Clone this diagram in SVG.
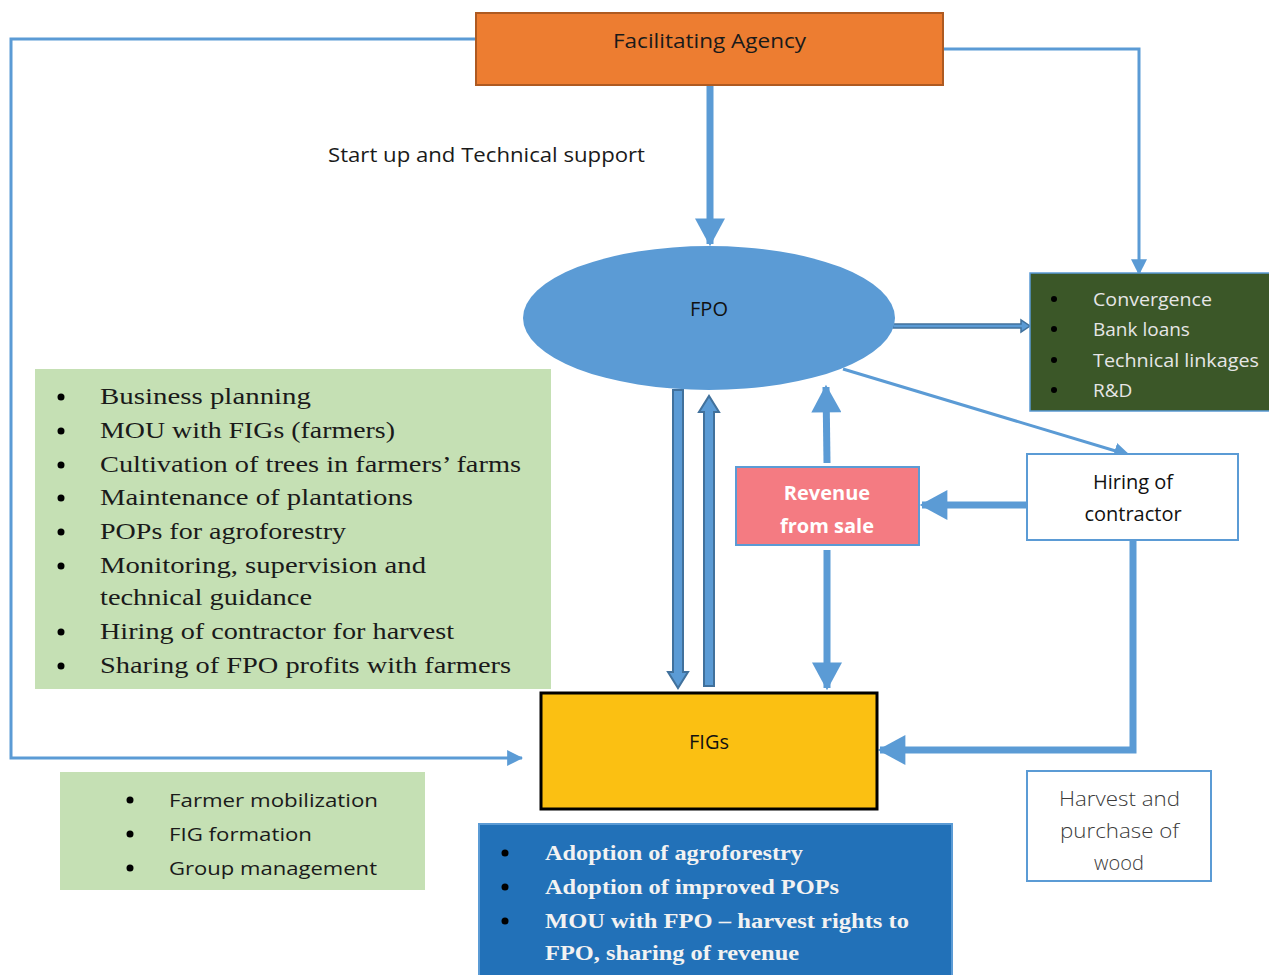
<svg xmlns="http://www.w3.org/2000/svg" width="1269" height="975" viewBox="0 0 1269 975">
<defs>
<style>
.conn{fill:none;stroke:#5B9BD5;}
.thin{stroke-width:3;}
.thick{stroke-width:7;}
.block{fill:#5B9BD5;stroke:#41719C;stroke-width:2;}
.sans{font-family:"Open Sans","Liberation Sans",sans-serif;}
.serif{font-family:"Liberation Serif","DejaVu Serif",serif;}
.bul{fill:#000;}
</style>
<marker id="headL" markerUnits="userSpaceOnUse" markerWidth="30" markerHeight="30" viewBox="0 0 24 26" refX="22" refY="13" orient="auto">
<path d="M0,0 L24,13 L0,26 Z" fill="#5B9BD5"/>
</marker>
<marker id="headS" markerUnits="userSpaceOnUse" markerWidth="16" markerHeight="16" viewBox="0 0 14 14" refX="13" refY="7" orient="auto">
<path d="M0,0 L14,7 L0,14 Z" fill="#5B9BD5"/>
</marker>
</defs>
<rect width="1269" height="975" fill="#fff"/>

<g id="connectors">
<polyline class="conn thin" points="475,39 11,39 11,758 522,758" marker-end="url(#headS)"/>
<polyline class="conn thin" points="943,49 1139,49 1139,274" marker-end="url(#headS)"/>
<line class="conn thick" x1="710" y1="85" x2="710" y2="244" marker-end="url(#headL)"/>
<line class="conn thin" x1="843" y1="369" x2="1129" y2="455" marker-end="url(#headS)"/>
<line class="conn thick" x1="1027" y1="505" x2="922" y2="505" marker-end="url(#headL)"/>
<line class="conn thick" x1="827" y1="463" x2="826" y2="387" marker-end="url(#headL)"/>
<line class="conn thick" x1="827" y1="550" x2="827" y2="688" marker-end="url(#headL)"/>
<polyline class="conn thick" points="1133,540 1133,750 880,750" marker-end="url(#headL)"/>
<path class="block" d="M673,390 L683,390 L683,672 L688,672 L678,688 L668,672 L673,672 Z"/>
<path class="block" d="M704,686 L714,686 L714,412 L719,412 L709,396 L699,412 L704,412 Z"/>
<path class="block" style="stroke-width:1.5" d="M893,324 L1021,324 L1021,320 L1030,326 L1021,332 L1021,328 L893,328 Z"/>
</g>

<g id="facilitating-agency">
<rect x="476" y="13" width="467" height="72" fill="#ED7D31" stroke="#AE5A21" stroke-width="2"/>
<text x="613" y="48" class="sans" font-size="20" font-weight="500" fill="#1a1a1a" textLength="193" lengthAdjust="spacingAndGlyphs">Facilitating Agency</text>
</g>

<g id="startup-label">
<text x="328" y="162" class="sans" font-size="20" font-weight="500" fill="#1a1a1a" textLength="317" lengthAdjust="spacingAndGlyphs">Start up and Technical support</text>
</g>

<g id="fpo">
<ellipse cx="709" cy="318" rx="186" ry="72" fill="#5B9BD5"/>
<text x="709" y="316" text-anchor="middle" class="sans" font-size="20" font-weight="500" fill="#111">FPO</text>
</g>

<g id="support-box">
<rect x="1030" y="273" width="245" height="138" fill="#3B5728" stroke="#5B9BD5" stroke-width="1.5"/>
<g class="bul"><circle cx="1054" cy="299" r="3"/><circle cx="1054" cy="329" r="3"/><circle cx="1054" cy="360" r="3"/><circle cx="1054" cy="390" r="3"/></g>
<g class="sans" font-size="19" fill="#E6E6E6">
<text x="1093" y="306" textLength="119" lengthAdjust="spacingAndGlyphs">Convergence</text>
<text x="1093" y="336">Bank loans</text>
<text x="1093" y="367" textLength="166" lengthAdjust="spacingAndGlyphs">Technical linkages</text>
<text x="1093" y="397">R&amp;D</text>
</g>
</g>

<g id="revenue">
<rect x="736" y="467" width="183" height="78" fill="#F47B82" stroke="#5B9BD5" stroke-width="2"/>
<text x="827" y="500" text-anchor="middle" class="sans" font-size="20" font-weight="bold" fill="#fff">Revenue</text>
<text x="827" y="533" text-anchor="middle" class="sans" font-size="20" font-weight="bold" fill="#fff">from sale</text>
</g>

<g id="hiring">
<rect x="1027" y="454" width="211" height="86" fill="#fff" stroke="#5B9BD5" stroke-width="2"/>
<text x="1133" y="489" text-anchor="middle" class="sans" font-size="20" fill="#111">Hiring of</text>
<text x="1133" y="521" text-anchor="middle" class="sans" font-size="20" fill="#111">contractor</text>
</g>

<g id="fpo-activities">
<rect x="35" y="369" width="516" height="320" fill="#C5E0B4"/>
<g class="bul"><circle cx="61" cy="397" r="3.5"/><circle cx="61" cy="431" r="3.5"/><circle cx="61" cy="465" r="3.5"/><circle cx="61" cy="498" r="3.5"/><circle cx="61" cy="532" r="3.5"/><circle cx="61" cy="566" r="3.5"/><circle cx="61" cy="632" r="3.5"/><circle cx="61" cy="666" r="3.5"/></g>
<g class="serif" font-size="23" fill="#1a1a1a">
<text x="100" y="404" textLength="211" lengthAdjust="spacingAndGlyphs">Business planning</text>
<text x="100" y="438" textLength="295" lengthAdjust="spacingAndGlyphs">MOU with FIGs (farmers)</text>
<text x="100" y="472" textLength="421" lengthAdjust="spacingAndGlyphs">Cultivation of trees in farmers’ farms</text>
<text x="100" y="505" textLength="313" lengthAdjust="spacingAndGlyphs">Maintenance of plantations</text>
<text x="100" y="539" textLength="246" lengthAdjust="spacingAndGlyphs">POPs for agroforestry</text>
<text x="100" y="573" textLength="326" lengthAdjust="spacingAndGlyphs">Monitoring, supervision and</text>
<text x="100" y="605" textLength="212" lengthAdjust="spacingAndGlyphs">technical guidance</text>
<text x="100" y="639" textLength="354" lengthAdjust="spacingAndGlyphs">Hiring of contractor for harvest</text>
<text x="100" y="673" textLength="411" lengthAdjust="spacingAndGlyphs">Sharing of FPO profits with farmers</text>
</g>
</g>

<g id="figs">
<rect x="541" y="693" width="336" height="116" fill="#FBC012" stroke="#000" stroke-width="3"/>
<text x="709" y="749" text-anchor="middle" class="sans" font-size="20" font-weight="500" fill="#111">FIGs</text>
</g>

<g id="fa-activities">
<rect x="60" y="772" width="365" height="118" fill="#C5E0B4"/>
<g class="bul"><circle cx="130" cy="800" r="3.5"/><circle cx="130" cy="834" r="3.5"/><circle cx="130" cy="868" r="3.5"/></g>
<g class="sans" font-size="19" fill="#1a1a1a">
<text x="169" y="807" textLength="209" lengthAdjust="spacingAndGlyphs">Farmer mobilization</text>
<text x="169" y="841" textLength="143" lengthAdjust="spacingAndGlyphs">FIG formation</text>
<text x="169" y="875" textLength="208" lengthAdjust="spacingAndGlyphs">Group management</text>
</g>
</g>

<g id="fig-activities">
<rect x="479" y="824" width="473" height="155" fill="#2271B8" stroke="#5B9BD5" stroke-width="2"/>
<g class="bul"><circle cx="505" cy="853" r="3.5"/><circle cx="505" cy="887" r="3.5"/><circle cx="505" cy="921" r="3.5"/></g>
<g class="serif" font-size="22" font-weight="bold" fill="#F2F2F2">
<text x="545" y="860" textLength="258" lengthAdjust="spacingAndGlyphs">Adoption of agroforestry</text>
<text x="545" y="894" textLength="294" lengthAdjust="spacingAndGlyphs">Adoption of improved POPs</text>
<text x="545" y="928" textLength="364" lengthAdjust="spacingAndGlyphs">MOU with FPO – harvest rights to</text>
<text x="545" y="960" textLength="254" lengthAdjust="spacingAndGlyphs">FPO, sharing of revenue</text>
</g>
</g>

<g id="harvest">
<rect x="1027" y="771" width="184" height="110" fill="#fff" stroke="#5B9BD5" stroke-width="2"/>
<g class="sans" font-size="20" fill="#3a3a3a" font-weight="300">
<text x="1059" y="806" textLength="121" lengthAdjust="spacingAndGlyphs">Harvest and</text>
<text x="1060" y="838" textLength="119" lengthAdjust="spacingAndGlyphs">purchase of</text>
<text x="1119" y="870" text-anchor="middle">wood</text>
</g>
</g>
</svg>
